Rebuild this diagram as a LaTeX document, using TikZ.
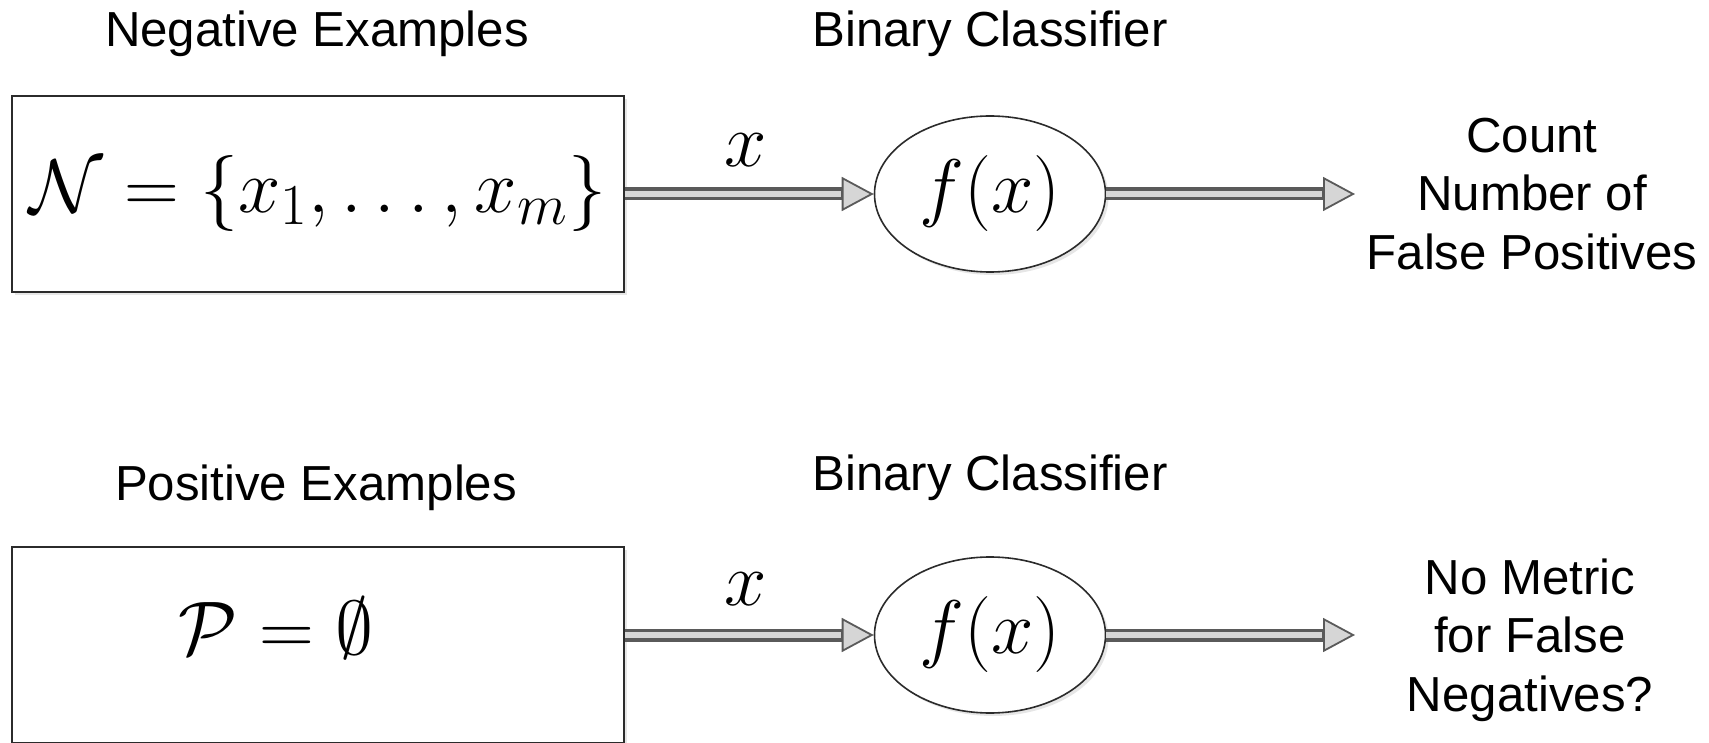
\RequirePackage{fix-cm}
\documentclass[tikz,border=0pt]{standalone}
\usepackage{fontspec}
\setmainfont{Liberation Sans}
\DeclareMathSizes{38}{38}{29}{21}
\usetikzlibrary{arrows.meta,shapes.geometric,shadows}
\definecolor{arrowdark}{HTML}{5A5A5A}
\definecolor{arrowlight}{HTML}{D6D6D6}
\definecolor{edgecol}{HTML}{2B2B2B}
\begin{document}
\begin{tikzpicture}[x=0.5pt,y=-0.5pt,
  lbl/.style={font=\fontsize{24.6}{30}\selectfont, inner sep=0pt, anchor=base},
  restxt/.style={font=\fontsize{24.6}{29.25}\selectfont, inner sep=0pt, align=center},
  mathtxt/.style={font=\fontsize{38}{46}\selectfont, inner sep=0pt},
  setbox/.style={draw=edgecol, line width=1pt, fill=white, minimum width=306pt, minimum height=98pt, inner sep=0pt,
    drop shadow={opacity=0.2, shadow xshift=1.5pt, shadow yshift=-1.5pt}},
  clf/.style={ellipse, draw=edgecol, line width=0.8pt, fill=white, minimum width=115.5pt, minimum height=78pt, inner sep=0pt,
    drop shadow={opacity=0.2, shadow xshift=1.5pt, shadow yshift=-1.5pt}},
  flow/.style={draw=arrowdark, line width=6.5pt, -{Triangle[length=16pt,width=17pt,line width=0.9pt,fill=arrowlight]}},
  flowcore/.style={draw=arrowlight, line width=3.3pt, shorten >=16.5pt}
]
\useasboundingbox (0,0) rectangle (1709,743);

% top row
\node[lbl] (nlab) at (317,47) {Negative Examples};
\node[lbl] (nclab) at (990,47) {Binary Classifier};
\node[setbox, mathtxt] (nbox) at (318,194) {$\mathcal{N} = \{x_1,\ldots,x_m\}$};
\node[clf, mathtxt] (nclf) at (990,194) {$f(x)$};
\node[mathtxt, anchor=base] (nx) at (746,167) {$x$};
\coordinate (nout) at (1355,194);
\node[restxt] (nres) at (1532,194) {Count\\Number of\\False Positives};

\draw[flow] (nbox.east) -- (nclf.west);
\draw[flowcore] (nbox.east) -- (nclf.west);
\draw[flow] (nclf.east) -- (nout);
\draw[flowcore] (nclf.east) -- (nout);

% bottom row
\node[lbl] (plab) at (316,500) {Positive Examples};
\node[lbl] (pclab) at (990,490) {Binary Classifier};
\node[setbox] (pbox) at (318,645) {};
\node[mathtxt, anchor=base] (pset) at (276,654) {$\mathcal{P} = \emptyset$};
\node[clf, mathtxt] (pclf) at (990,635) {$f(x)$};
\node[mathtxt, anchor=base] (px) at (746,605) {$x$};
\coordinate (pout) at (1355,635);
\node[restxt] (pres) at (1530,640) {No Metric\\for False\\Negatives?};

\draw[flow] (pbox.east |- pclf.west) -- (pclf.west);
\draw[flowcore] (pbox.east |- pclf.west) -- (pclf.west);
\draw[flow] (pclf.east) -- (pout);
\draw[flowcore] (pclf.east) -- (pout);
\end{tikzpicture}
\end{document}
